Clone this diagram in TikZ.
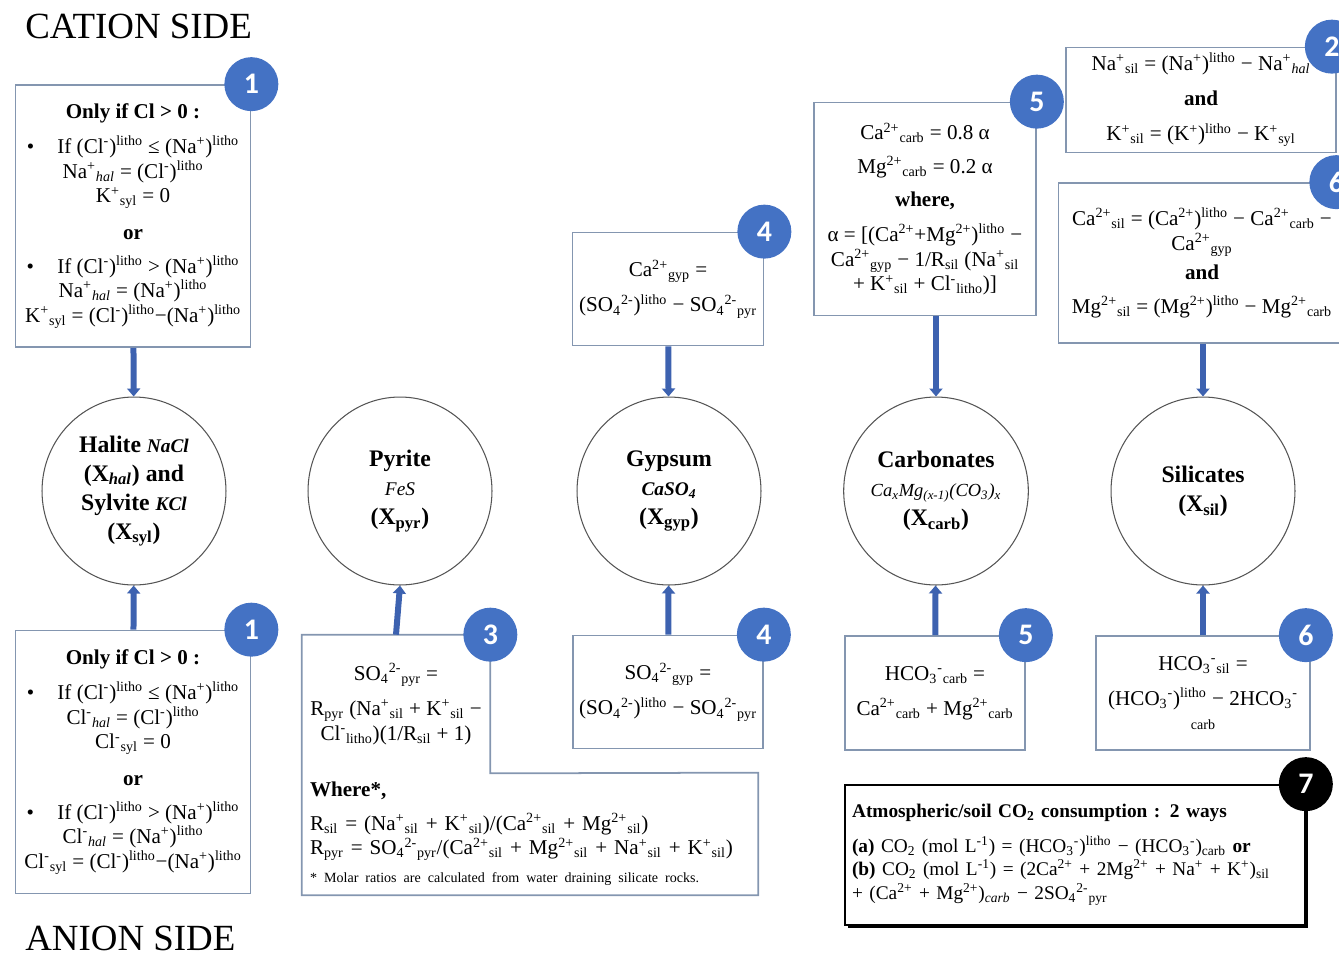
\documentclass[tikz,border=0pt]{standalone}
\usepackage{fontspec}
\setmainfont{Liberation Serif}
\newfontfamily\badgefont{Carlito}
\usetikzlibrary{arrows.meta,positioning,shapes.geometric,shadows}
\usepackage{xcolor}
\definecolor{badgeblue}{HTML}{4472C4}
\definecolor{flowblue}{HTML}{3D62B0}
\definecolor{edgegray}{HTML}{8496B0}
\definecolor{ringgray}{HTML}{555555}
\newcommand{\supx}[1]{\textsuperscript{#1}}
\newcommand{\subx}[1]{\textsubscript{#1}}

\begin{document}
\begin{tikzpicture}[
  x=0.02cm, y=-0.02cm,
  font=\fontsize{12}{14}\selectfont,
  eqbox/.style={draw=edgegray, line width=1pt, fill=white, align=center, inner sep=2pt},
  mineral/.style={draw=ringgray, line width=0.6pt, ellipse, minimum width=3.68cm, minimum height=3.76cm, inner sep=0pt, align=center, font=\fontsize{13.5}{16.5}\selectfont\bfseries},
  badge/.style={circle, fill=badgeblue, text=white, minimum size=1.08cm, inner sep=0pt, font=\badgefont\bfseries\fontsize{17}{17}\selectfont},
  flow/.style={draw=flowblue, line width=0.12cm, -{Triangle[width=0.26cm,length=0.16cm]}},
  side/.style={anchor=base west, inner sep=0pt, font=\fontsize{21}{24}\selectfont}
]
\clip (0,0) rectangle (1339,961);

\node[side] (cation) at (25,38) {CATION SIDE};
\node[side] (anion) at (25,950) {ANION SIDE};

% minerals
\node[mineral] (halite) at (134,491) {Halite {\itshape\fontsize{11}{13}\selectfont NaCl}\\(X\subx{\itshape hal}) and\\Sylvite {\itshape\fontsize{11}{13}\selectfont KCl}\\(X\subx{syl})};
\node[mineral] (pyrite) at (400,491) {Pyrite\\{\normalfont\itshape\fontsize{11}{13}\selectfont FeS}\\(X\subx{pyr})};
\node[mineral] (gypsum) at (669,491) {Gypsum\\{\itshape\fontsize{11}{13}\selectfont CaSO\subx{4}}\\(X\subx{gyp})};
\node[mineral] (carbonate) at (936,491) {Carbonates\\{\normalfont\itshape\fontsize{10.5}{13}\selectfont Ca\subx{x}Mg\subx{(x-1)}(CO\subx{3})\subx{x}}\\(X\subx{carb})};
\node[mineral] (silicate) at (1203,491) {Silicates\\(X\subx{sil})};

% cation side
\node[eqbox, minimum width=4.70cm, minimum height=5.24cm] (halup) at (133,216) {\textbf{Only if Cl > 0 :}\\[6pt]
\textbullet\hspace{1.1em}If (Cl\supx{-})\supx{litho} ≤ (Na\supx{+})\supx{litho}\\
Na\supx{+}\subx{\itshape hal} = (Cl\supx{-})\supx{litho}\\
K\supx{+}\subx{syl} = 0\\[7pt]
\textbf{or}\\[5pt]
\textbullet\hspace{1.1em}If (Cl\supx{-})\supx{litho} > (Na\supx{+})\supx{litho}\\
Na\supx{+}\subx{\itshape hal} = (Na\supx{+})\supx{litho}\\
K\supx{+}\subx{syl} = (Cl\supx{-})\supx{litho}−(Na\supx{+})\supx{litho}};
\node[eqbox, minimum width=3.82cm, minimum height=2.26cm] (gyptop) at (668,289) {Ca\supx{2+}\subx{gyp} =\\[6pt]
(SO\subx{4}\supx{2-})\supx{litho} − SO\subx{4}\supx{2-}\subx{pyr}};
\node[eqbox, minimum width=4.44cm, minimum height=4.26cm] (carbtop) at (925,209) {Ca\supx{2+}\subx{carb} = 0.8 α\\[5pt]
Mg\supx{2+}\subx{carb} = 0.2 α\\[5pt]
\textbf{where,}\\[6pt]
α = [(Ca\supx{2+}+Mg\supx{2+})\supx{litho} −\\
Ca\supx{2+}\subx{gyp} − 1/R\subx{sil} (Na\supx{+}\subx{sil}\\
+ K\supx{+}\subx{sil} + Cl\supx{-}\subx{litho})]};
\node[eqbox, minimum width=5.40cm, minimum height=2.10cm] (silna) at (1201,100) {Na\supx{+}\subx{sil} = (Na\supx{+})\supx{litho} − Na\supx{+}\subx{\itshape hal}\\[6pt]
\textbf{and}\\[6pt]
K\supx{+}\subx{sil} = (K\supx{+})\supx{litho} − K\supx{+}\subx{syl}};
\node[eqbox, minimum width=5.74cm, minimum height=3.20cm] (silca) at (1202,263) {Ca\supx{2+}\subx{sil} = (Ca\supx{2+})\supx{litho} − Ca\supx{2+}\subx{carb} −\\
Ca\supx{2+}\subx{gyp}\\[3pt]
\textbf{and}\\[5pt]
Mg\supx{2+}\subx{sil} = (Mg\supx{2+})\supx{litho} − Mg\supx{2+}\subx{carb}};

% anion side
\node[eqbox, minimum width=4.70cm, minimum height=5.26cm] (haldown) at (133,762) {\textbf{Only if Cl > 0 :}\\[6pt]
\textbullet\hspace{1.1em}If (Cl\supx{-})\supx{litho} ≤ (Na\supx{+})\supx{litho}\\
Cl\supx{-}\subx{\itshape hal} = (Cl\supx{-})\supx{litho}\\
Cl\supx{-}\subx{syl} = 0\\[7pt]
\textbf{or}\\[5pt]
\textbullet\hspace{1.1em}If (Cl\supx{-})\supx{litho} > (Na\supx{+})\supx{litho}\\
Cl\supx{-}\subx{\itshape hal} = (Na\supx{+})\supx{litho}\\
Cl\supx{-}\subx{syl} = (Cl\supx{-})\supx{litho}−(Na\supx{+})\supx{litho}};
\node[minimum width=3.76cm, minimum height=2.76cm, align=center, inner sep=2pt] (pyrtop) at (396,704) {SO\subx{4}\supx{2-}\subx{pyr} =\\[6pt]
R\subx{pyr} (Na\supx{+}\subx{sil} + K\supx{+}\subx{sil} −\\
Cl\supx{-}\subx{litho})(1/R\subx{sil} + 1)};
\node[minimum width=9.12cm, minimum height=2.44cm, text width=8.8cm, align=left, inner sep=0.16cm] (pyrbot) at (530,834) {\textbf{Where*,}\\[5pt]
R\subx{sil} = (Na\supx{+}\subx{sil} + K\supx{+}\subx{sil})/(Ca\supx{2+}\subx{sil} + Mg\supx{2+}\subx{sil})\\
R\subx{pyr} = SO\subx{4}\supx{2-}\subx{pyr}/(Ca\supx{2+}\subx{sil} + Mg\supx{2+}\subx{sil} + Na\supx{+}\subx{sil} + K\supx{+}\subx{sil})\\[2pt]
{\fontsize{8}{10}\selectfont * Molar ratios are calculated from water draining silicate rocks.}};
\draw[draw=edgegray, line width=1pt] (pyrtop.north west) -- (pyrtop.north east) -- (pyrtop.south east) -- (pyrbot.north east) -- (pyrbot.south east) -- (pyrbot.south west) -- cycle;
\node[eqbox, minimum width=3.80cm, minimum height=2.26cm] (gypdown) at (668,692) {SO\subx{4}\supx{2-}\subx{gyp} =\\[6pt]
(SO\subx{4}\supx{2-})\supx{litho} − SO\subx{4}\supx{2-}\subx{pyr}};
\node[eqbox, minimum width=3.60cm, minimum height=2.28cm] (carbdown) at (935,693) {HCO\subx{3}\supx{-}\subx{carb} =\\[6pt]
Ca\supx{2+}\subx{carb} + Mg\supx{2+}\subx{carb}};
\node[eqbox, minimum width=4.28cm, minimum height=2.28cm] (sildown) at (1203,693) {HCO\subx{3}\supx{-}\subx{sil} =\\[6pt]
(HCO\subx{3}\supx{-})\supx{litho} − 2HCO\subx{3}\supx{-}\\
{\fontsize{8}{10}\selectfont carb}};
\node[draw=black, line width=1pt, fill=white, general shadow={fill=black, shadow xshift=1.5pt, shadow yshift=-1.5pt}, minimum width=9.20cm, minimum height=2.80cm, text width=8.92cm, align=left, inner sep=0.14cm, font=\fontsize{11}{13.5}\selectfont] (cotwo) at (1075,855) {\textbf{Atmospheric/soil CO\subx{2} consumption : 2 ways}\\[6pt]
\textbf{(a)} CO\subx{2} (mol L\supx{-1}) = (HCO\subx{3}\supx{-})\supx{litho} − (HCO\subx{3}\supx{-})\subx{carb} \textbf{or}\\
\textbf{(b)} CO\subx{2} (mol L\supx{-1}) = (2Ca\supx{2+} + 2Mg\supx{2+} + Na\supx{+} + K\supx{+})\subx{sil}\\
+ (Ca\supx{2+} + Mg\supx{2+})\subx{\itshape carb} − 2SO\subx{4}\supx{2-}\subx{pyr}};

% arrows into the minerals
\draw[flow] (halup) -- (halite);
\draw[flow] (haldown) -- (halite);
\draw[flow] (pyrtop.north) -- (pyrite.south);
\draw[flow] (gyptop) -- (gypsum);
\draw[flow] (gypdown) -- (gypsum);
\draw[flow] (carbtop.south -| carbonate.north) -- (carbonate.north);
\draw[flow] (carbdown) -- (carbonate);
\draw[flow] (silca.south -| silicate.north) -- (silicate.north);
\draw[flow] (sildown) -- (silicate);

% step badges
\node[badge] (b1up) at (halup.north east) {1};
\node[badge] (b1down) at (haldown.north east) {1};
\node[badge] (b3) at (pyrtop.north east) {3};
\node[badge] (b4up) at (gyptop.north east) {4};
\node[badge] (b4down) at (gypdown.north east) {4};
\node[badge] (b5up) at (carbtop.north east) {5};
\node[badge] (b5down) at (carbdown.north east) {5};
\node[badge] (b2) at ([xshift=-0.1cm]silna.north east) {2};
\node[badge] (b6up) at ([xshift=-0.2cm]silca.north east) {6};
\node[badge] (b6down) at ([xshift=-0.1cm]sildown.north east) {6};
\node[badge, fill=black] (b7) at (cotwo.north east) {7};
\end{tikzpicture}
\end{document}
